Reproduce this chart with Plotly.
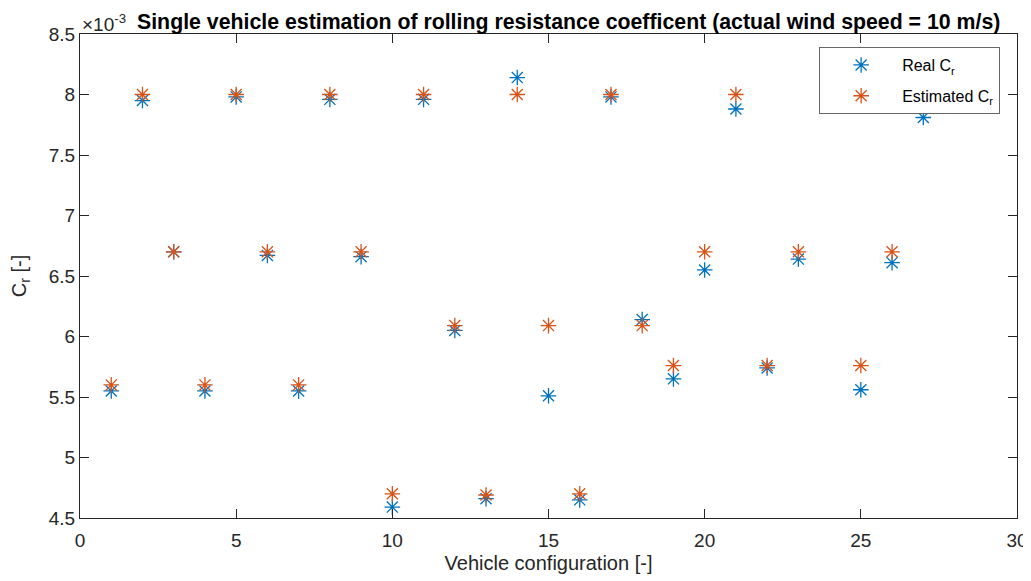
import plotly.graph_objs as go

# vehicle configuration index
configs = list(range(1, 28))

# rolling resistance coefficient, in units of 1e-3
real_cr = [5.55, 7.95, 6.70, 5.55, 7.98, 6.67, 5.55, 7.96, 6.66, 4.59,
           7.96, 6.05, 4.66, 8.14, 5.51, 4.65, 7.98, 6.14, 5.65, 6.55,
           7.88, 5.74, 6.64, 8.00, 5.56, 6.61, 7.81]
estimated_cr = [5.60, 8.00, 6.70, 5.60, 8.00, 6.70, 5.60, 8.00, 6.70, 4.70,
                8.00, 6.09, 4.69, 8.00, 6.09, 4.70, 8.00, 6.09, 5.76, 6.70,
                8.00, 5.76, 6.70, 8.00, 5.76, 6.70, 8.00]

blue = '#0072BD'
orange = '#D95319'
ink = '#262626'
font = 'Liberation Sans, Arial, sans-serif'

fig = go.Figure()

fig.add_trace(go.Scatter(
    x=configs, y=real_cr, mode='markers', name='Real C<sub>r</sub>',
    legendgroup='real',
    marker=dict(symbol='asterisk-open', size=13, color=blue,
                line=dict(color=blue, width=1.3))
))
fig.add_trace(go.Scatter(
    x=configs, y=estimated_cr, mode='markers', name='Estimated C<sub>r</sub>',
    legendgroup='est',
    marker=dict(symbol='asterisk-open', size=13, color=orange,
                line=dict(color=orange, width=1.3))
))

axis_style = dict(
    showgrid=False, zeroline=False, showline=True, linecolor=ink, linewidth=1,
    mirror='ticks', ticks='inside', ticklen=9, tickcolor=ink, automargin=False,
    tickfont=dict(family=font, size=19, color=ink),
)

# the page body adds an 8px offset, so margins are shifted to compensate
fig.update_layout(
    width=1031, height=581,
    margin=dict(l=72, r=22, t=26, b=71),
    plot_bgcolor='white', paper_bgcolor='white',
    font=dict(family=font, color=ink),
    xaxis=dict(range=[0, 30], dtick=5, ticklabelstandoff=5,
               title=dict(text='Vehicle configuration [-]',
                          font=dict(family=font, size=20, color=ink), standoff=6),
               **axis_style),
    yaxis=dict(range=[4.5, 8.5], dtick=0.5,
               title=dict(text='C<sub>r</sub> [-]',
                          font=dict(family=font, size=20, color=ink), standoff=16),
               **axis_style),
    legend=dict(x=0.982, y=0.973, xanchor='right', yanchor='top',
                bgcolor='white', bordercolor='#666666', borderwidth=1,
                font=dict(family=font, size=16, color='black'),
                itemwidth=72, tracegroupgap=7),
    showlegend=True,
)

fig.add_annotation(
    text='×10<sup>-3</sup>', xref='paper', yref='paper', x=0, y=1,
    xanchor='left', yanchor='bottom', showarrow=False, yshift=-3,
    font=dict(family=font, size=19, color=ink)
)
fig.add_annotation(
    text='<b>Single vehicle estimation of rolling resistance coefficent (actual wind speed = 10 m/s)</b>',
    xref='paper', yref='paper', x=(568 - 80) / 937, y=1,
    xanchor='center', yanchor='bottom', showarrow=False, yshift=-2,
    font=dict(family=font, size=21.3, color='black')
)

fig.write_html('out.html')
